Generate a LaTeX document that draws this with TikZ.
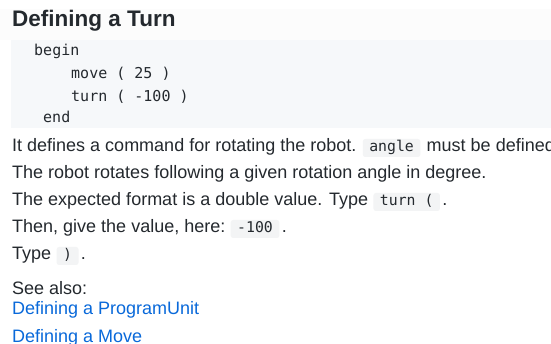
\documentclass[tikz,border=0pt]{standalone}
\usepackage{fontspec}
\setmainfont{Liberation Sans}
\newfontfamily\codefont{DejaVu Sans Mono}
\definecolor{txt}{HTML}{24292E}
\definecolor{codebg}{HTML}{F6F8FA}
\definecolor{headbg}{HTML}{FCFCFC}
\definecolor{chipbg}{HTML}{F3F4F5}
\definecolor{linkc}{HTML}{0969DA}
\tikzset{
  body/.style={anchor=base west, inner sep=0pt, text=txt, font=\fontsize{18}{18}\selectfont},
  title/.style={anchor=base west, inner sep=0pt, text=txt, font=\fontsize{22.5}{24}\selectfont\bfseries},
  code/.style={anchor=base west, inner sep=0pt, text=txt, font=\fontsize{15}{15}\codefont},
  chip/.style={anchor=base west, fill=chipbg, rounded corners=2.5pt, text=txt, inner xsep=6.5pt, inner ysep=0pt,
    text height=13pt, text depth=5pt, font=\fontsize{14.8}{15}\codefont},
  link/.style={anchor=base west, inner sep=0pt, text=linkc, font=\fontsize{18}{18}\selectfont},
}
\begin{document}
\begin{tikzpicture}[x=1pt,y=-1pt]
\useasboundingbox (0,0) rectangle (551,344);
\clip (0,0) rectangle (551,344);
\fill[white] (0,0) rectangle (551,344);
\fill[headbg] (0,9) rectangle (551,40);
\fill[codebg] (11,40) rectangle (551,128);
\node[title] (t) at (12,27) {Defining a Turn};
\node[code] (c1) at (34,56) {begin};
\node[code] (c2) at (71,79) {move ( 25 )};
\node[code] (c3) at (71,102) {turn ( -100 )};
\node[code] (c4) at (43,123) {end};
\node[body] (l1) at (12,152) {It defines a command for rotating the robot.};
\node[chip] (k1) at ([xshift=6pt]l1.base east) {angle};
\node[body] (l1b) at ([xshift=6pt]k1.base east) {must be defined};
\node[body] (l2) at (12,179) {The robot rotates following a given rotation angle in degree.};
\node[body] (l3) at (12,206) {The expected format is a double value. Type};
\node[chip] (k3) at ([xshift=5pt]l3.base east) {turn (};
\node[body] (l3b) at ([xshift=2pt]k3.base east) {.};
\node[body] (l4) at (12,233) {Then, give the value, here:};
\node[chip] (k4) at ([xshift=5pt]l4.base east) {-100};
\node[body] (l4b) at ([xshift=2pt]k4.base east) {.};
\node[body] (l5) at (12,260) {Type};
\node[chip] (k5) at ([xshift=5pt]l5.base east) {)};
\node[body] (l5b) at ([xshift=2pt]k5.base east) {.};
\node[body] (s) at (12,295) {See also:};
\node[link] (a1) at (12,315) {Defining a ProgramUnit};
\node[link] (a2) at (12,342) {Defining a Move};
\end{tikzpicture}
\end{document}
